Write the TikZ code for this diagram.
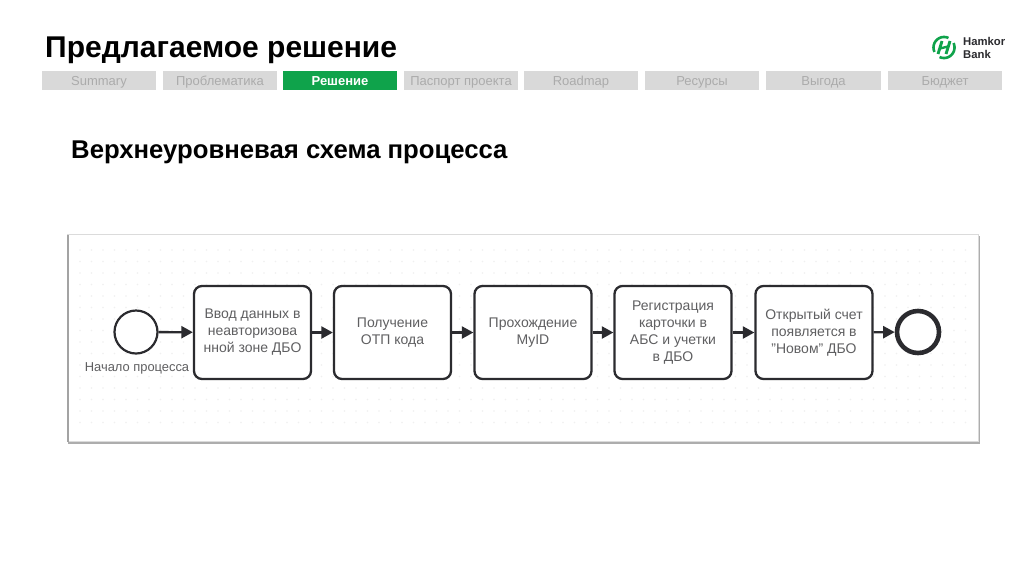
\documentclass[tikz,border=0pt]{standalone}
\usepackage{fontspec}
\setmainfont{Liberation Sans}
\usetikzlibrary{arrows.meta}
\definecolor{tabgrey}{HTML}{D9D9D9}
\definecolor{tabtext}{HTML}{ABABAB}
\definecolor{hgreen}{HTML}{0FA34B}
\definecolor{ink}{HTML}{2B2B2F}
\definecolor{labelgrey}{HTML}{5F5F61}
\definecolor{griddot}{HTML}{F0F0F0}
\tikzset{
  x=1pt,y=-1pt,
  tabbox/.style={fill=tabgrey,draw=none,minimum height=19pt,inner sep=0pt,text height=11pt,text depth=1pt,text=tabtext,font=\fontsize{13}{14}\selectfont},
  tabon/.style={tabbox,fill=hgreen,text=white,font=\fontsize{13}{14}\selectfont\bfseries},
  task/.style={draw=ink,line width=2.3pt,rounded corners=8pt,fill=white,minimum width=117pt,minimum height=93pt,inner sep=1pt,align=center,text=labelgrey,font=\fontsize{14}{17}\selectfont},
  startev/.style={circle,draw=ink,line width=2.2pt,fill=white,minimum size=43pt,inner sep=0pt},
  endev/.style={circle,draw=ink,line width=4.6pt,fill=white,minimum size=42pt,inner sep=0pt},
  flow/.style={draw=ink,line width=2.3pt,-{Triangle[length=11.5pt,width=12pt]}},
  logostroke/.style={draw=hgreen,line width=2.6pt},
}
\begin{document}
\begin{tikzpicture}
\useasboundingbox (0,0) rectangle (1024,574);
\fill[white] (0,0) rectangle (1024,574);
% title
\node[anchor=base west,inner sep=0pt,font=\fontsize{30}{34}\selectfont\bfseries,text=black] (title) at (45,57) {Предлагаемое решение};
\node[anchor=base west,inner sep=0pt,font=\fontsize{25.7}{30}\selectfont\bfseries,text=black] (subtitle) at (71,158) {Верхнеуровневая схема процесса};
% tabs
\node[tabbox,minimum width=114pt] (t1) at (99,80.5) {Summary};
\node[tabbox,minimum width=114pt] (t2) at (220,80.5) {Проблематика};
\node[tabon,minimum width=114pt] (t3) at (340,80.5) {Решение};
\node[tabbox,minimum width=114pt] (t4) at (461,80.5) {Паспорт проекта};
\node[tabbox,minimum width=114pt] (t5) at (581,80.5) {Roadmap};
\node[tabbox,minimum width=114pt] (t6) at (702,80.5) {Ресурсы};
\node[tabbox,minimum width=115pt] (t7) at (823.5,80.5) {Выгода};
\node[tabbox,minimum width=114pt] (t8) at (945,80) {Бюджет};
% logo
\draw[logostroke] plot[domain=65:205,samples=24] ({944+10.5*cos(\x)},{47.5-10.5*sin(\x)});
\draw[logostroke] plot[domain=245:385,samples=24] ({944+10.5*cos(\x)},{47.5-10.5*sin(\x)});
\draw[logostroke,line width=2.9pt] (938,54) -- (942,41);
\draw[logostroke,line width=2.9pt] (946,54) -- (950,41);
\draw[logostroke,line width=2.4pt] (940,48.5) -- (948,46.5);
\node[anchor=west,inner sep=0pt,align=left,text=ink,font=\fontsize{11.3}{12.5}\selectfont\bfseries] (logotext) at (963,48) {Hamkor\\Bank};
% panel
\fill[black!32] (68,236) rectangle (980,443.5);
\fill[black!14] (66.5,233.5) rectangle (978.5,441.5);
\fill[black!36] (66.5,235) rectangle (68.5,441.5);
\fill[white] (68.5,235) rectangle (977.5,441);
\foreach \gy in {250,261.5,...,430}{
  \foreach \gx in {80,91.5,...,970}{
    \fill[griddot] (\gx,\gy) circle[radius=0.9pt];
  }
}
% process
\node[startev] (s) at (136,332) {};
\node[anchor=center,inner sep=0pt,text=labelgrey,font=\fontsize{12.9}{14}\selectfont] (slabel) at (137,368) {Начало процесса};
\node[task] (a) at (252.5,332.5) {Ввод данных в\\неавторизова\\нной зоне ДБО};
\node[task] (b) at (392.5,332.5) {Получение\\ОТП кода};
\node[task] (c) at (533,332.5) {Прохождение\\MyID};
\node[task] (d) at (673,332.5) {Регистрация\\карточки в\\АБС и учетки\\в ДБО};
\node[task] (e) at (814,332.5) {Открытый счет\\появляется в\\"Новом" ДБО};
\node[endev] (z) at (918,332) {};
\draw[flow] (s) -- (a);
\draw[flow] (a) -- (b);
\draw[flow] (b) -- (c);
\draw[flow] (c) -- (d);
\draw[flow] (d) -- (e);
\draw[flow] (e) -- (z);
\end{tikzpicture}
\end{document}
